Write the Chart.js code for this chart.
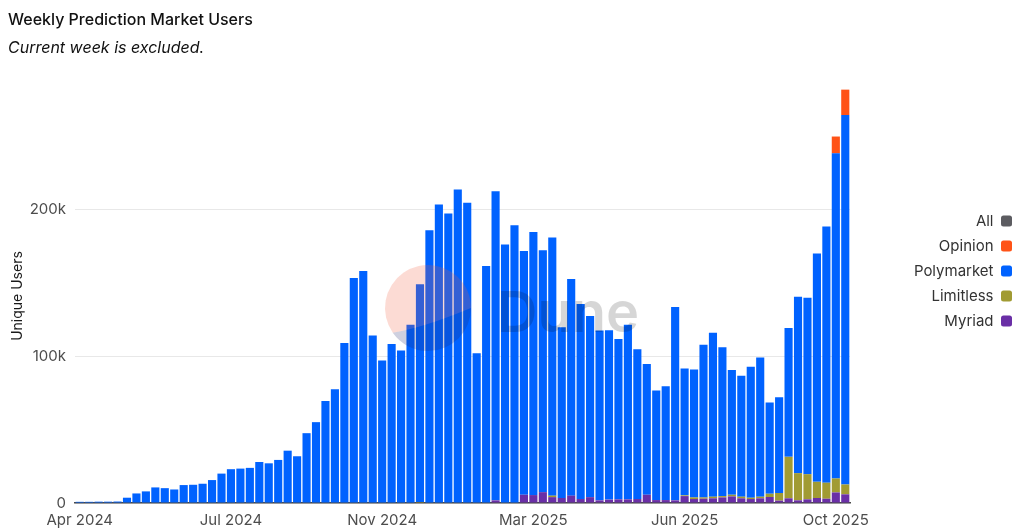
<!DOCTYPE html>
<html>
<head>
<meta charset="utf-8">
<title>Weekly Prediction Market Users</title>
<script src="https://cdn.jsdelivr.net/npm/chart.js@4.4.1/dist/chart.umd.min.js"></script>
<style>
  html, body { margin: 0; padding: 0; background: #fff; }
  #wrap { width: 1024px; height: 532px; position: relative; }
</style>
</head>
<body>
<div id="wrap"><canvas id="chart"></canvas></div>
<script>
// week starts (category axis)
const weeks = [
  '2024-04-01','2024-04-08','2024-04-15','2024-04-22','2024-04-29','2024-05-06','2024-05-13','2024-05-20','2024-05-27','2024-06-03',
  '2024-06-10','2024-06-17','2024-06-24','2024-07-01','2024-07-08','2024-07-15','2024-07-22','2024-07-29','2024-08-05','2024-08-12',
  '2024-08-19','2024-08-26','2024-09-02','2024-09-09','2024-09-16','2024-09-23','2024-09-30','2024-10-07','2024-10-14','2024-10-21',
  '2024-10-28','2024-11-04','2024-11-11','2024-11-18','2024-11-25','2024-12-02','2024-12-09','2024-12-16','2024-12-23','2024-12-30',
  '2025-01-06','2025-01-13','2025-01-20','2025-01-27','2025-02-03','2025-02-10','2025-02-17','2025-02-24','2025-03-03','2025-03-10',
  '2025-03-17','2025-03-24','2025-03-31','2025-04-07','2025-04-14','2025-04-21','2025-04-28','2025-05-05','2025-05-12','2025-05-19',
  '2025-05-26','2025-06-02','2025-06-09','2025-06-16','2025-06-23','2025-06-30','2025-07-07','2025-07-14','2025-07-21','2025-07-28',
  '2025-08-04','2025-08-11','2025-08-18','2025-08-25','2025-09-01','2025-09-08','2025-09-15','2025-09-22','2025-09-29','2025-10-06',
  '2025-10-13','2025-10-20'
];

const myriad = [
  0,0,0,0,0,0,0,0,0,0,
  0,0,0,0,0,0,0,0,0,0,
  0,0,0,0,0,0,0,0,0,0,
  0,0,0,0,0,0,0,0,0,0,
  0,0,0,0,1800,0,0,5600,5400,7400,
  4000,3400,5000,2700,4000,1800,2300,2500,2500,2700,
  5600,2000,2000,1800,4700,2700,2900,3200,3800,4500,
  3200,2700,3200,4100,1600,3200,1800,2500,3400,2900,
  7200,5900
];

const limitless = [
  0,0,0,0,0,0,0,0,0,0,
  0,0,0,0,0,0,0,0,0,0,
  0,0,0,0,0,0,0,0,0,0,
  0,0,0,0,0,0,600,0,0,0,
  0,0,0,0,0,0,0,0,0,0,
  1000,0,0,0,0,0,0,0,0,0,
  0,0,0,0,500,1100,900,1100,900,1100,
  1100,900,1100,2200,5200,28200,18500,17100,11000,10900,
  9500,6700
];

const polymarket = [
  800,800,900,900,1000,3600,6500,7900,10600,10100,
  9200,12200,12400,13100,15600,20000,23000,23400,23900,27900,
  27000,29300,35600,31800,47500,55000,69400,77300,108900,153100,
  157800,113900,97000,108200,103700,121300,148200,185600,203000,196900,
  213300,204300,101900,161200,210200,175900,189000,165800,179000,164600,
  175600,116100,147400,132600,123200,115500,115200,109100,118800,101900,
  88900,74500,77400,131500,86300,87100,103800,111600,101300,84900,
  82300,89100,94700,62000,65100,87700,120000,120000,155400,174300,
  221200,251300
];

const opinion = [
  0,0,0,0,0,0,0,0,0,0,
  0,0,0,0,0,0,0,0,0,0,
  0,0,0,0,0,0,0,0,0,0,
  0,0,0,0,0,0,0,0,0,0,
  0,0,0,0,0,0,0,0,0,0,
  0,0,0,0,0,0,0,0,0,0,
  0,0,0,0,0,0,0,0,0,0,
  0,0,0,0,0,0,0,0,0,0,
  11400,17300
];

// "All" shows only in the legend
const all = weeks.map(() => null);

const xTicks = {0: 'Apr 2024', 16: 'Jul 2024', 32: 'Nov 2024', 48: 'Mar 2025', 64: 'Jun 2025', 80: 'Oct 2025'};
const yTickValues = [0, 100000, 200000];
const yTickLabels = ['0', '100k', '200k'];

const FONT = 'Inter, "Noto Sans", sans-serif';

// make the legend column wider so the plot ends where the original does
const legendWidth = {
  id: 'legendWidth',
  afterInit(chart) {
    const lg = chart.legend;
    const fit = lg.fit;
    lg.fit = function () { fit.call(this); this.width = 172; };
  }
};

// y axis title, sits a bit below the plot's middle in the original
const yTitle = {
  id: 'yTitle',
  afterDraw(chart) {
    const ctx = chart.ctx;
    ctx.save();
    ctx.translate(18, 296);
    ctx.rotate(-Math.PI / 2);
    ctx.font = '14px ' + FONT;
    ctx.fillStyle = '#1a1a1a';
    ctx.textAlign = 'center';
    ctx.textBaseline = 'middle';
    ctx.fillText('Unique Users', 0, 0);
    ctx.restore();
  }
};

// Dune watermark over the bars
const watermark = {
  id: 'watermark',
  afterDatasetsDraw(chart) {
    const ctx = chart.ctx;
    const cx = 428, cy = 308, r = 43;
    const a = 145 * Math.PI / 180;
    const lx = cx + r * Math.cos(a), ly = cy + r * Math.sin(a);
    const qx = cx - 5, qy = cy + 20;
    ctx.save();
    // upper part
    ctx.beginPath();
    ctx.arc(cx, cy, r, a, Math.PI * 2, false);
    ctx.quadraticCurveTo(qx, qy, lx, ly);
    ctx.closePath();
    ctx.fillStyle = 'rgba(240,90,60,0.22)';
    ctx.fill();
    // lower part
    ctx.beginPath();
    ctx.arc(cx, cy, r, 0, a, false);
    ctx.quadraticCurveTo(qx, qy, cx + r, cy);
    ctx.closePath();
    ctx.fillStyle = 'rgba(30,40,110,0.22)';
    ctx.fill();
    // word mark
    ctx.font = '600 56px ' + FONT;
    ctx.fillStyle = 'rgba(0,0,0,0.16)';
    ctx.textBaseline = 'alphabetic';
    ctx.textAlign = 'left';
    ctx.fillText('Dune', 497, 332);
    ctx.restore();
  }
};

const barOpts = {barPercentage: 0.86, categoryPercentage: 1, borderWidth: 0, stack: 'users'};

new Chart(document.getElementById('chart'), {
  type: 'bar',
  data: {
    labels: weeks,
    datasets: [
      {label: 'Myriad', data: myriad, backgroundColor: '#6a2fa6', ...barOpts},
      {label: 'Limitless', data: limitless, backgroundColor: '#a19b33', ...barOpts},
      {label: 'Polymarket', data: polymarket, backgroundColor: '#0062ff', ...barOpts},
      {label: 'Opinion', data: opinion, backgroundColor: '#ff5317', ...barOpts},
      {label: 'All', data: all, backgroundColor: '#5c5c61', ...barOpts}
    ]
  },
  options: {
    responsive: true,
    maintainAspectRatio: false,
    animation: false,
    layout: {padding: {left: 8, right: 2, top: 12, bottom: 2}},
    plugins: {
      title: {
        display: true,
        text: 'Weekly Prediction Market Users',
        align: 'start',
        color: '#111',
        font: {family: FONT, size: 16, weight: '500', lineHeight: 1},
        padding: {top: 0, bottom: 11}
      },
      subtitle: {
        display: true,
        text: 'Current week is excluded.',
        align: 'start',
        color: '#111',
        font: {family: FONT, size: 16, style: 'italic', weight: 'normal', lineHeight: 1},
        padding: {top: 1, bottom: 6}
      },
      legend: {
        position: 'right',
        reverse: true,
        rtl: true,
        labels: {
          color: '#333',
          font: {family: FONT, size: 15},
          boxWidth: 11,
          boxHeight: 11,
          useBorderRadius: true,
          borderRadius: 2.5,
          padding: 10
        }
      },
      tooltip: {enabled: false}
    },
    scales: {
      x: {
        stacked: true,
        afterFit(scale) { scale.height = 27; },
        grid: {display: false, drawTicks: false},
        border: {display: true, color: '#4a4a4a', width: 1.5},
        ticks: {
          autoSkip: false,
          maxRotation: 0,
          padding: 8,
          color: '#4d4d4d',
          font: {family: FONT, size: 15},
          callback: (v, i) => (i in xTicks ? xTicks[i] : null)
        }
      },
      y: {
        stacked: true,
        min: 0,
        max: 300000,
        afterFit(scale) { scale.width = 67; },
        grid: {color: '#e8e8e8', drawTicks: false},
        border: {display: false},
        ticks: {
          stepSize: 100000,
          padding: 9,
          color: '#4d4d4d',
          font: {family: FONT, size: 15},
          callback: (v) => {
            const k = yTickValues.indexOf(v);
            return k >= 0 ? yTickLabels[k] : null;
          }
        }
      }
    }
  },
  plugins: [legendWidth, yTitle, watermark]
});
</script>
</body>
</html>
